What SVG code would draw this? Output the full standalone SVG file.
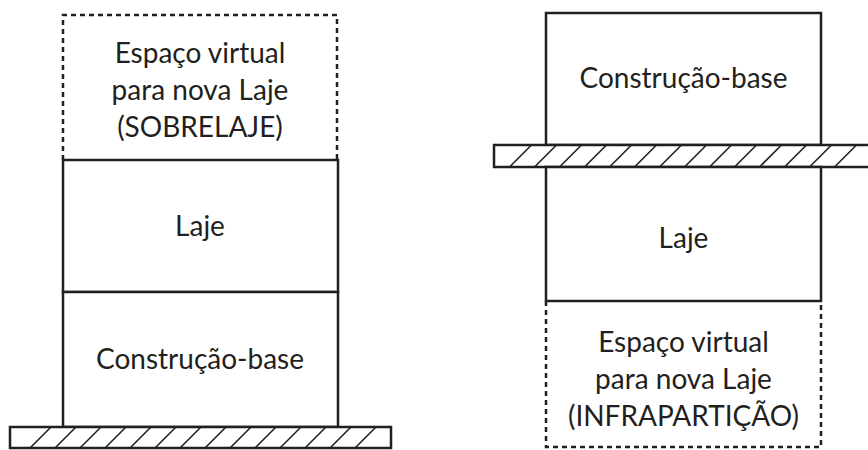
<svg xmlns="http://www.w3.org/2000/svg" width="868" height="450" viewBox="0 0 868 450">
<style>
.box{fill:#fff;stroke:#231f20;stroke-width:2.5}
.dot{fill:none;stroke:#231f20;stroke-width:2.5;stroke-dasharray:5 4}
.slab{fill:#fff;stroke:#231f20;stroke-width:2.5}
.hatch{stroke:#231f20;stroke-width:1.6}
text{font-family:Lato,"Open Sans",sans-serif;font-size:28px;fill:#231f20;text-anchor:middle}
</style>
<defs>
<g id="hatches">
<line class="hatch" x1="0" y1="21" x2="21" y2="0"/>
<line class="hatch" x1="25" y1="21" x2="46" y2="0"/>
<line class="hatch" x1="50" y1="21" x2="71" y2="0"/>
<line class="hatch" x1="75" y1="21" x2="96" y2="0"/>
<line class="hatch" x1="100" y1="21" x2="121" y2="0"/>
<line class="hatch" x1="125" y1="21" x2="146" y2="0"/>
<line class="hatch" x1="150" y1="21" x2="171" y2="0"/>
<line class="hatch" x1="175" y1="21" x2="196" y2="0"/>
<line class="hatch" x1="200" y1="21" x2="221" y2="0"/>
<line class="hatch" x1="225" y1="21" x2="246" y2="0"/>
<line class="hatch" x1="250" y1="21" x2="271" y2="0"/>
<line class="hatch" x1="275" y1="21" x2="296" y2="0"/>
<line class="hatch" x1="300" y1="21" x2="321" y2="0"/>
<line class="hatch" x1="325" y1="21" x2="346" y2="0"/>
</g>
</defs>

<!-- Left diagram -->
<g id="left-virtual">
<path class="dot" d="M63,160 V15 H337 V160"/>
<text x="200" y="63">Espaço virtual</text>
<text x="200" y="100">para nova Laje</text>
<text x="200" y="137">(SOBRELAJE)</text>
</g>
<g id="left-laje">
<rect class="box" x="63" y="160" width="275" height="132"/>
<text x="200" y="236">Laje</text>
</g>
<g id="left-base">
<rect class="box" x="63" y="292" width="275" height="135"/>
<text x="200" y="369">Construção-base</text>
</g>
<g id="left-ground">
<rect class="slab" x="10" y="427" width="381" height="21"/>
<use href="#hatches" x="30" y="427"/>
</g>

<!-- Right diagram -->
<g id="right-base">
<rect class="box" x="546" y="13" width="275" height="132"/>
<text x="683.5" y="88">Construção-base</text>
</g>
<g id="right-slab">
<rect class="slab" x="494" y="145" width="380" height="22"/>
<use href="#hatches" x="510" y="145.5"/>
</g>
<g id="right-laje">
<rect class="box" x="546" y="167" width="275" height="134"/>
<text x="683.5" y="248">Laje</text>
</g>
<g id="right-virtual">
<path class="dot" d="M546,301 V447 H821 V301"/>
<text x="683.5" y="352">Espaço virtual</text>
<text x="683.5" y="389">para nova Laje</text>
<text x="683.5" y="426">(INFRAPARTIÇÃO)</text>
</g>
<g id="connectors"/>
</svg>
